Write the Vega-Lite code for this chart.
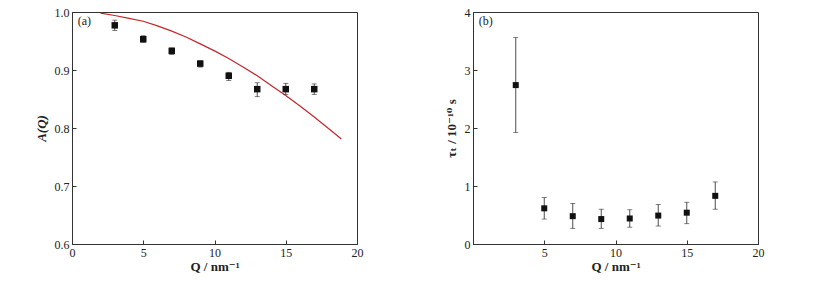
{
  "$schema": "https://vega.github.io/schema/vega-lite/v6.json",
  "background": "white",
  "padding": {"left": 34, "top": 5, "right": 5, "bottom": 5},
  "spacing": 80,
  "config": {
    "view": {"stroke": "#333", "strokeWidth": 1},
    "axis": {
      "grid": false,
      "domainColor": "#333",
      "tickColor": "#333",
      "labelColor": "#222",
      "titleColor": "#222",
      "labelFont": "Liberation Serif",
      "labelFontSize": 12,
      "titleFont": "Liberation Serif, DejaVu Serif, serif",
      "titleFontSize": 13,
      "titleFontWeight": "bold"
    }
  },
  "datasets": {
    "a_pts": [
      {"Q": 3, "A": 0.977, "lo": 0.968, "hi": 0.986},
      {"Q": 5, "A": 0.953, "lo": 0.948, "hi": 0.959},
      {"Q": 7, "A": 0.933, "lo": 0.927, "hi": 0.938},
      {"Q": 9, "A": 0.911, "lo": 0.905, "hi": 0.916},
      {"Q": 11, "A": 0.890, "lo": 0.882, "hi": 0.896},
      {"Q": 13, "A": 0.867, "lo": 0.854, "hi": 0.878},
      {"Q": 15, "A": 0.867, "lo": 0.858, "hi": 0.877},
      {"Q": 17, "A": 0.867, "lo": 0.858, "hi": 0.876}
    ],
    "a_fit": [
      {"Q": 2, "A": 0.998},
      {"Q": 3, "A": 0.994},
      {"Q": 4, "A": 0.989},
      {"Q": 5, "A": 0.984},
      {"Q": 6, "A": 0.976},
      {"Q": 7, "A": 0.967},
      {"Q": 8, "A": 0.957},
      {"Q": 9, "A": 0.945},
      {"Q": 10, "A": 0.933},
      {"Q": 11, "A": 0.920},
      {"Q": 12, "A": 0.905},
      {"Q": 13, "A": 0.890},
      {"Q": 14, "A": 0.873},
      {"Q": 15, "A": 0.856},
      {"Q": 16, "A": 0.838},
      {"Q": 17, "A": 0.819},
      {"Q": 18, "A": 0.799},
      {"Q": 18.9, "A": 0.781}
    ],
    "b_pts": [
      {"Q": 3, "tau": 2.74, "lo": 1.92, "hi": 3.56},
      {"Q": 5, "tau": 0.615, "lo": 0.43, "hi": 0.80},
      {"Q": 7, "tau": 0.48, "lo": 0.27, "hi": 0.70},
      {"Q": 9, "tau": 0.43, "lo": 0.27, "hi": 0.60},
      {"Q": 11, "tau": 0.44, "lo": 0.29, "hi": 0.59},
      {"Q": 13, "tau": 0.49, "lo": 0.31, "hi": 0.68},
      {"Q": 15, "tau": 0.54, "lo": 0.35, "hi": 0.72},
      {"Q": 17, "tau": 0.83, "lo": 0.60, "hi": 1.07}
    ],
    "labels_a": [{"x": 0.4, "y": 0.985, "t": "(a)"}],
    "labels_b": [{"x": 0.4, "y": 3.85, "t": "(b)"}]
  },
  "hconcat": [
    {
      "width": 285,
      "height": 232,
      "layer": [
        {
          "data": {"name": "a_fit"},
          "mark": {"type": "line", "color": "#c4262b", "strokeWidth": 1.2},
          "encoding": {
            "x": {"field": "Q", "type": "quantitative", "scale": {"domain": [0, 20], "nice": false},
              "axis": {"title": "Q / nm⁻¹", "values": [0, 2.5, 5, 7.5, 10, 12.5, 15, 17.5, 20],
                "labelExpr": "datum.value % 5 === 0 ? datum.label : ''",
                "tickSize": {"condition": {"test": "datum.value % 5 === 0", "value": -4}, "value": -2},
                "labelPadding": 7, "titlePadding": 2, "labelFlush": false}},
            "y": {"field": "A", "type": "quantitative", "scale": {"domain": [0.6, 1.0], "nice": false, "zero": false},
              "axis": {"title": "A(Q)", "titleFontStyle": "italic", "format": ".1f",
                "values": [0.6, 0.65, 0.7, 0.75, 0.8, 0.85, 0.9, 0.95, 1.0],
                "labelExpr": "abs(datum.value*10 - round(datum.value*10)) < 0.001 ? format(datum.value, '.1f') : ''",
                "tickSize": {"condition": {"test": "abs(datum.value*10 - round(datum.value*10)) < 0.001", "value": -4}, "value": -2},
                "labelPadding": 7, "titlePadding": 6, "labelFlush": false}}
          }
        },
        {
          "data": {"name": "a_pts"},
          "mark": {"type": "rule", "color": "#222", "strokeWidth": 0.8},
          "encoding": {
            "x": {"field": "Q", "type": "quantitative"},
            "y": {"field": "lo", "type": "quantitative"},
            "y2": {"field": "hi"}
          }
        },
        {
          "data": {"name": "a_pts"},
          "mark": {"type": "tick", "orient": "horizontal", "color": "#222", "size": 5, "thickness": 0.8},
          "encoding": {
            "x": {"field": "Q", "type": "quantitative"},
            "y": {"field": "lo", "type": "quantitative"}
          }
        },
        {
          "data": {"name": "a_pts"},
          "mark": {"type": "tick", "orient": "horizontal", "color": "#222", "size": 5, "thickness": 0.8},
          "encoding": {
            "x": {"field": "Q", "type": "quantitative"},
            "y": {"field": "hi", "type": "quantitative"}
          }
        },
        {
          "data": {"name": "a_pts"},
          "mark": {"type": "point", "shape": "square", "filled": true, "color": "#111", "size": 42, "opacity": 1},
          "encoding": {
            "x": {"field": "Q", "type": "quantitative"},
            "y": {"field": "A", "type": "quantitative"}
          }
        },
        {
          "data": {"name": "labels_a"},
          "mark": {"type": "text", "font": "Liberation Serif", "fontSize": 12, "align": "left", "baseline": "middle", "color": "#222"},
          "encoding": {
            "x": {"field": "x", "type": "quantitative"},
            "y": {"field": "y", "type": "quantitative"},
            "text": {"field": "t"}
          }
        }
      ]
    },
    {
      "width": 285,
      "height": 232,
      "layer": [
        {
          "data": {"name": "b_pts"},
          "mark": {"type": "rule", "color": "#222", "strokeWidth": 0.8},
          "encoding": {
            "x": {"field": "Q", "type": "quantitative", "scale": {"domain": [0, 20], "nice": false},
              "axis": {"title": "Q / nm⁻¹", "values": [0, 2.5, 5, 7.5, 10, 12.5, 15, 17.5, 20],
                "labelExpr": "datum.value % 5 === 0 && datum.value > 0 ? datum.label : ''",
                "tickSize": {"condition": {"test": "datum.value % 5 === 0", "value": -4}, "value": -2},
                "labelPadding": 7, "titlePadding": 2, "labelFlush": false}},
            "y": {"field": "lo", "type": "quantitative", "scale": {"domain": [0, 4], "nice": false},
              "axis": {"title": "τₜ / 10⁻¹⁰ s", "values": [0, 0.5, 1, 1.5, 2, 2.5, 3, 3.5, 4],
                "labelExpr": "datum.value % 1 === 0 ? format(datum.value, 'd') : ''",
                "tickSize": {"condition": {"test": "datum.value % 1 === 0", "value": -4}, "value": -2},
                "labelPadding": 7, "titlePadding": 6, "labelFlush": false}},
            "y2": {"field": "hi"}
          }
        },
        {
          "data": {"name": "b_pts"},
          "mark": {"type": "tick", "orient": "horizontal", "color": "#222", "size": 5, "thickness": 0.8},
          "encoding": {
            "x": {"field": "Q", "type": "quantitative"},
            "y": {"field": "lo", "type": "quantitative"}
          }
        },
        {
          "data": {"name": "b_pts"},
          "mark": {"type": "tick", "orient": "horizontal", "color": "#222", "size": 5, "thickness": 0.8},
          "encoding": {
            "x": {"field": "Q", "type": "quantitative"},
            "y": {"field": "hi", "type": "quantitative"}
          }
        },
        {
          "data": {"name": "b_pts"},
          "mark": {"type": "point", "shape": "square", "filled": true, "color": "#111", "size": 36, "opacity": 1},
          "encoding": {
            "x": {"field": "Q", "type": "quantitative"},
            "y": {"field": "tau", "type": "quantitative"}
          }
        },
        {
          "data": {"name": "labels_b"},
          "mark": {"type": "text", "font": "Liberation Serif", "fontSize": 12, "align": "left", "baseline": "middle", "color": "#222"},
          "encoding": {
            "x": {"field": "x", "type": "quantitative"},
            "y": {"field": "y", "type": "quantitative"},
            "text": {"field": "t"}
          }
        }
      ]
    }
  ]
}
